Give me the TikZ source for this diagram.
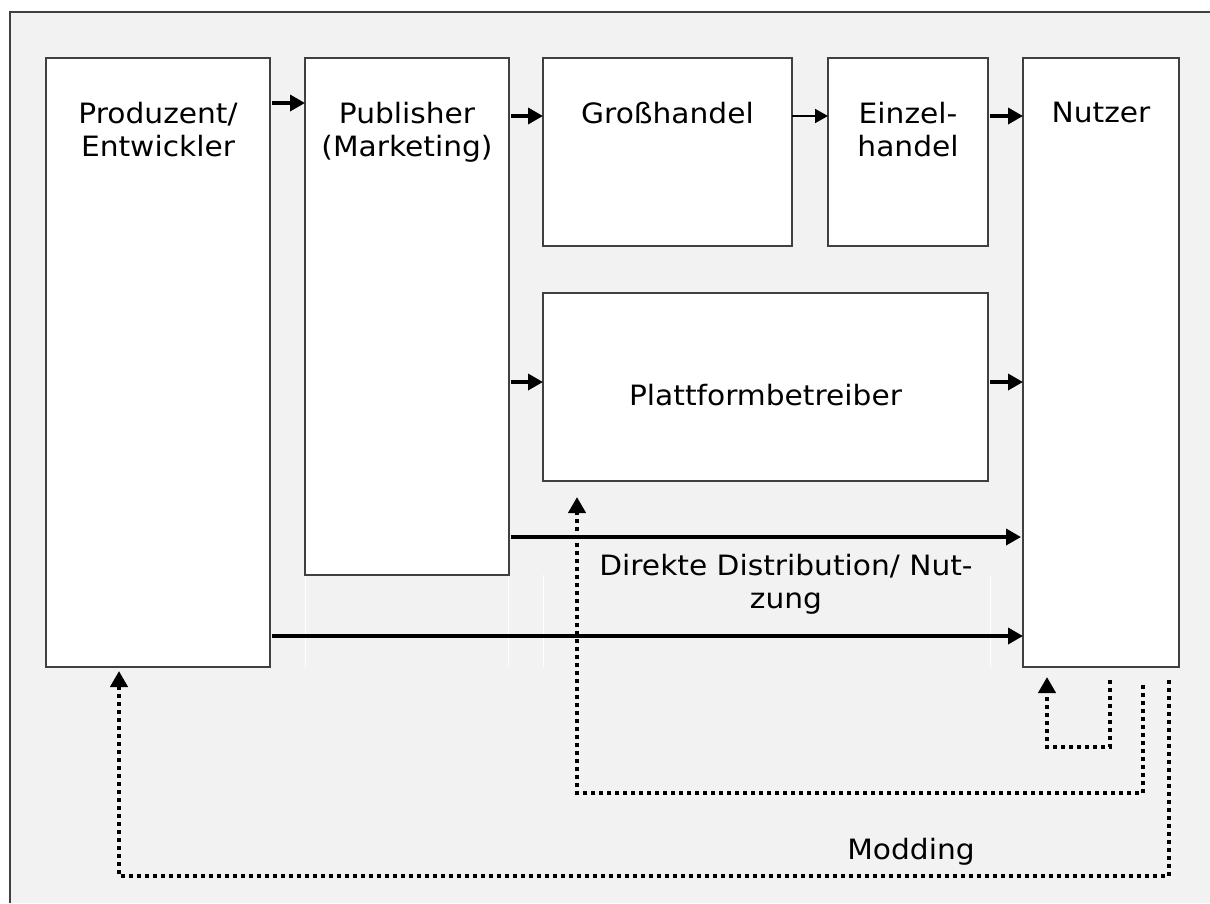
\documentclass[tikz,border=0pt]{standalone}
\usepackage{fontspec}
\setmainfont[FakeStretch=1.06]{DejaVu Sans}
\usetikzlibrary{arrows.meta}
\definecolor{bgray}{HTML}{F2F2F2}
\definecolor{boxline}{HTML}{404040}
\begin{document}
\begin{tikzpicture}[x=1pt,y=-1pt,
  box/.style={draw=boxline, fill=white, line width=1.4pt, inner sep=0pt, outer sep=0pt},
  lbl/.style={font=\fontsize{28}{33}\selectfont, align=center, inner sep=0pt, text=black},
  flow/.style={line width=3.5pt, -{Triangle[length=15pt,width=16pt]}},
  thinflow/.style={line width=1.8pt, -{Triangle[length=13pt,width=14pt]}},
  dots/.style={line width=4pt, dash pattern=on 4pt off 4pt, -{Triangle[length=16pt,width=17pt]}},
  ghost/.style={draw=white, line width=1pt}]
\useasboundingbox (0,0) rectangle (1210,903);
% background frame
\fill[bgray] (10,12) rectangle (1210,903);
\draw[boxline, line width=2pt] (10,903) -- (10,12) -- (1210,12);
% faint guide lines
\foreach \gx in {305,508,543,990} \draw[ghost] (\gx,575) -- (\gx,667);
% boxes
\node[box, minimum width=224pt, minimum height=609pt] (prod) at (158,362.5) {};
\node[box, minimum width=204pt, minimum height=517pt] (pub) at (407,316.5) {};
\node[box, minimum width=249pt, minimum height=188pt] (gross) at (667.5,152) {};
\node[box, minimum width=160pt, minimum height=188pt] (einz) at (908,152) {};
\node[box, minimum width=156pt, minimum height=609pt] (nutz) at (1101,362.5) {};
\node[box, minimum width=445pt, minimum height=188pt] (platt) at (765.5,387) {};
% texts
\node[lbl, anchor=north] (tprod) at (158,102) {Produzent/\\Entwickler};
\node[lbl, anchor=north] (tpub) at (407,102) {Publisher\\(Marketing)};
\node[lbl, anchor=north] (tgross) at (667.5,102) {Großhandel};
\node[lbl, anchor=north] (teinz) at (908,102) {Einzel-\\handel};
\node[lbl, anchor=north] (tnutz) at (1101,102) {Nutzer};
\node[lbl] (tplatt) at (765.5,395) {Plattformbetreiber};
\node[lbl, anchor=north] (tdirekt) at (786,554) {Direkte Distribution/ Nut-\\zung};
\node[lbl] (tmod) at (911,852) {Modding};
% solid flows
\draw[flow, shorten <=2pt] (prod.east |- 0,103) -- (pub.west |- 0,103);
\draw[flow, shorten <=2pt] (pub.east |- 0,116) -- (gross.west |- 0,116);
\draw[thinflow] (gross.east |- 0,116) -- (einz.west |- 0,116);
\draw[flow, shorten <=2pt] (einz.east |- 0,116) -- (nutz.west |- 0,116);
\draw[flow, shorten <=2pt] (pub.east |- 0,382) -- (platt.west |- 0,382);
\draw[flow, shorten <=2pt] (platt.east |- 0,382) -- (nutz.west |- 0,382);
\draw[flow, shorten <=2pt, shorten >=2pt] (pub.east |- 0,537) -- (nutz.west |- 0,537);
\draw[flow, shorten <=2pt] (prod.east |- 0,636) -- (nutz.west |- 0,636);
% dotted feedback loops
\draw[dots, shorten <=13pt, shorten >=10pt] (nutz.south -| 1110,0) -- (1110,747) -- (1047,747) -- (nutz.south -| 1047,0);
\draw[dots, shorten <=18pt, shorten >=16pt] (nutz.south -| 1143,0) -- (1143,793) -- (577,793) -- (platt.south -| 577,0);
\draw[dots, shorten <=13pt, shorten >=4pt] (nutz.south -| 1169,0) -- (1169,876) -- (119,876) -- (prod.south -| 119,0);
\end{tikzpicture}
\end{document}
